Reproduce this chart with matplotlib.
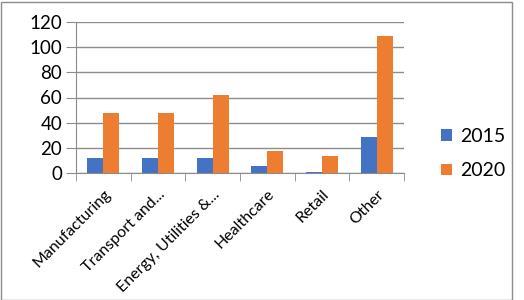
import numpy as np
import matplotlib.pyplot as plt
from matplotlib.patches import Rectangle

categories = ["Manufacturing", "Transport and...", "Energy, Utilities &...", "Healthcare", "Retail", "Other"]
vals2015 = [12, 12, 12, 6, 1, 29]
vals2020 = [48, 48, 62, 18, 14, 109]
yticks = [0, 20, 40, 60, 80, 100, 120]

plt.rcParams['font.family'] = ['Lato', 'DejaVu Sans']

fig = plt.figure(figsize=(5.24, 3.0), dpi=100)
ax = fig.add_axes([0.145, 0.422, 0.626, 0.506])

x = np.arange(len(categories))
w = 0.29
ax.bar(x - w / 2, vals2015, w, color='#4472C4', label='2015', zorder=3)
ax.bar(x + w / 2, vals2020, w, color='#ED7D31', label='2020', zorder=3)

ax.set_xlim(-0.5, len(categories) - 0.5)
ax.set_ylim(0, 120)
ax.set_yticks(yticks)
ax.set_yticklabels([str(v) for v in yticks], fontsize=13.5)
ax.yaxis.grid(True, color='#8c8c8c', linewidth=1, zorder=0)
ax.tick_params(axis='y', length=7, color='#8c8c8c', pad=3)

# category labels at centers, tick marks at boundaries
ax.set_xticks(x)
ax.set_xticklabels(categories, rotation=45, ha='right', rotation_mode='anchor', fontsize=11.5)
ax.tick_params(axis='x', length=0, pad=10)
ax.set_xticks(np.arange(len(categories) + 1) - 0.5, minor=True)
ax.tick_params(axis='x', which='minor', length=6, color='#8c8c8c')

for s in ['top', 'right']:
    ax.spines[s].set_visible(False)
ax.spines['left'].set_color('#8c8c8c')
ax.spines['bottom'].set_color('#8c8c8c')

ax.legend(loc='center left', bbox_to_anchor=(1.06, 0.13), frameon=False, fontsize=14,
          handlelength=0.55, handleheight=0.55, handletextpad=0.4, labelspacing=0.9)

fig.patches.append(Rectangle((0.001, 0.0), 0.976, 0.995, transform=fig.transFigure,
                             fill=False, edgecolor='#8c8c8c', linewidth=1))

fig.savefig('out.png', dpi=100)
